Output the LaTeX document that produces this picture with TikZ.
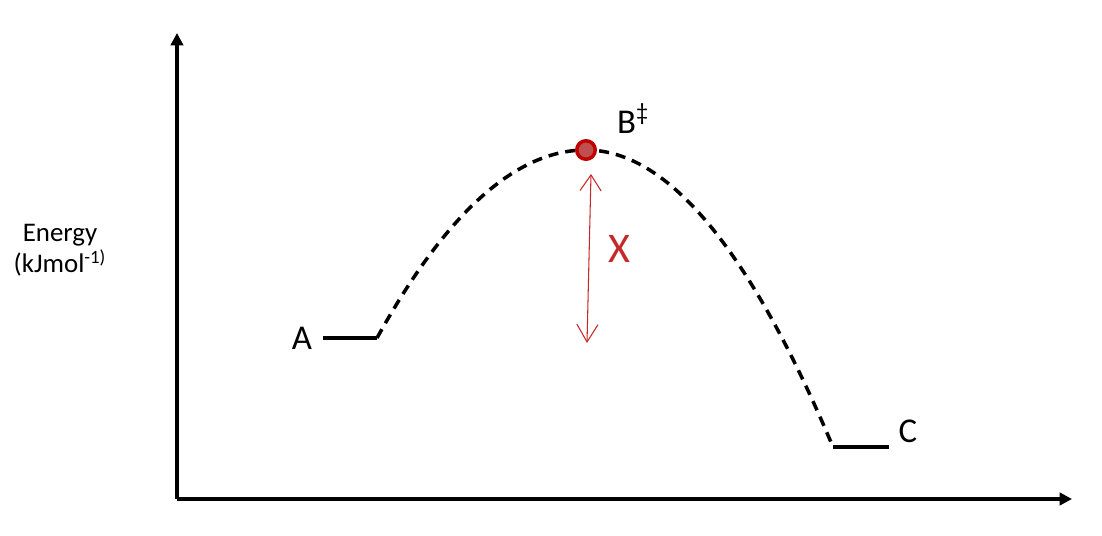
\documentclass[tikz,border=0pt]{standalone}
\usepackage{fontspec}
\setmainfont{Carlito}
\usetikzlibrary{arrows.meta}
\definecolor{inkred}{HTML}{C62828}
\definecolor{dotrim}{HTML}{C00000}
\definecolor{dotfill}{HTML}{BF5050}

\begin{document}
\begin{tikzpicture}[x=0.02cm, y=-0.02cm,
		axis/.style={line width=2pt, -{Triangle[length=7pt, width=7pt]}},
		level/.style={line width=2pt},
		pathway/.style={line width=2pt, dash pattern=on 5.7pt off 4pt},
		lbl/.style={font=\fontsize{19.8}{24}\selectfont, anchor=base},
		ylbl/.style={font=\fontsize{15.3}{18}\selectfont, anchor=base},
		ink/.style={color=inkred, line width=0.6pt}]
			%%%%% START %%%%%
			\useasboundingbox (0, 0) rectangle (1102, 536);
			
			\coordinate (origin) at (177, 499);
			\coordinate (ytop) at (177, 33);
			\coordinate (xend) at (1072, 499);
			\draw[axis] (origin) -- (ytop);
			\draw[axis] (origin) -- (xend);
			
			\node[ylbl] (energy) at (60, 242) {Energy};
			\node[ylbl] (units) at (60, 273) {(kJmol\textsuperscript{-1)}};
			
			\coordinate (aL) at (323, 338);
			\coordinate (aR) at (377, 338);
			\draw[level] (aL) -- (aR);
			\node[lbl] (labelA) at (302, 350) {A};
			
			\coordinate (cL) at (833, 447);
			\coordinate (cR) at (889, 447);
			\draw[level] (cL) -- (cR);
			\node[lbl] (labelC) at (908, 443) {C};
			
			\coordinate (top) at (586, 150);
			\draw[pathway] (aR) .. controls (446, 213) and (516, 150) .. (top)
				.. controls (668, 150) and (750, 250) .. (cL);
			
			\node[circle, draw=dotrim, fill=dotfill, line width=2pt, minimum size=0.37cm, inner sep=0pt] (peak) at (top) {};
			\node[lbl, anchor=base west] (labelB) at (611, 134) {B\textsuperscript{‡}};
			
			\coordinate (arrTop) at (591, 174);
			\coordinate (arrBot) at (587, 343);
			\draw[ink, {Straight Barb[length=9pt, width=12pt]}-{Straight Barb[length=10pt, width=12pt]}] (arrTop) -- (arrBot);
			\node[text=inkred, font=\fontsize{24}{28}\selectfont] (markX) at (619, 249) {X};
			
			%%%%% END %%%%%
		\end{tikzpicture}
\end{document}
